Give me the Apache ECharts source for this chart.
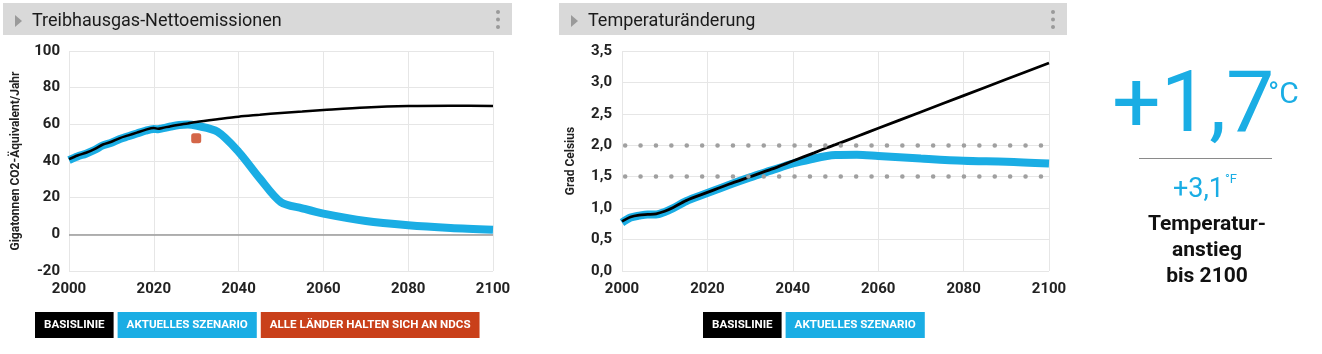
<!DOCTYPE html>
<html>
<head>
<meta charset="utf-8">
<script src="https://cdn.jsdelivr.net/npm/echarts@6/dist/echarts.min.js"></script>
<style>
html,body{margin:0;padding:0;background:#fff;}
#chart{width:1322px;height:354px;}
</style>
</head>
<body>
<div id="chart"></div>
<script>
// ---- Data ----
const emYears = [2000,2002,2004,2006,2008,2010,2012,2014,2016,2018,2020,2021,2022,2024,2026,2028,2030,2035,2040,2045,2050,2055,2060,2070,2080,2090,2100];
const emBaseline = [41,43,44.5,46.5,49,50.5,52.5,54,55.5,57,58,57.6,58,59,59.8,60.5,61.3,62.8,64.2,65.2,66.2,67,67.8,69.2,70,70.2,70];
const emCurrent  = [40.5,42.5,44,46,48.5,50,52,53.5,55,56.5,57.5,57.3,57.8,58.8,59.6,59.9,59.3,56,45,30.5,17.5,14.2,11.3,7.3,5,3.5,2.5];
const ndcPoint = [[2030, 52.4]];

const tYears = [2000,2002,2004,2006,2008,2010,2012,2015,2020,2025,2030,2035,2040,2045,2048,2050,2055,2060,2070,2080,2090,2100];
const tBaseline = [0.79,0.86,0.89,0.9,0.91,0.95,1.01,1.12,1.25,1.38,1.5,1.62,1.75,1.88,1.96,2.01,2.14,2.27,2.53,2.79,3.05,3.31];
const tCurrent  = [0.77,0.85,0.88,0.9,0.9,0.94,1.0,1.11,1.24,1.37,1.49,1.6,1.71,1.79,1.83,1.845,1.85,1.83,1.79,1.755,1.74,1.71];
const tThresholds = [1.5, 2.0];

const emTicks = {min:-20, max:100, interval:20};
const tTicks = {min:0, max:3.5, interval:0.5};
const xTicks = {min:2000, max:2100, interval:20};

const NAME_BASE = 'BASISLINIE';
const NAME_CUR = 'AKTUELLES SZENARIO';
const NAME_NDC = 'ALLE LÄNDER HALTEN SICH AN NDCS';

const BLUE = '#1aade4';
const RED = '#c9401a';

const zip = (xs, ys) => xs.map((x, i) => [x, ys[i]]);

const chart = echarts.init(document.getElementById('chart'), null, {renderer:'canvas'});

const axisLabelStyle = {color:'#222', fontSize:15, fontWeight:'bold', fontFamily:'Roboto'};
const splitLine = {show:true, lineStyle:{color:'#e6e6e6', width:1}};
const yearFmt = v => String(v);

function header(x, w, title) {
  return [
    {type:'rect', shape:{x:x, y:3, width:w, height:32}, style:{fill:'#d9d9d9'}, silent:true},
    {type:'polygon', shape:{points:[[x+12,15],[x+19,21],[x+12,27]]}, style:{fill:'#9a9a9a'}, silent:true},
    {type:'text', style:{text:title, x:x+29, y:21, font:'18px Roboto', fill:'#1a1a1a', verticalAlign:'middle', align:'left'}, silent:true},
    {type:'circle', shape:{cx:x+w-14, cy:12, r:2}, style:{fill:'#9a9a9a'}, silent:true},
    {type:'circle', shape:{cx:x+w-14, cy:19.5, r:2}, style:{fill:'#9a9a9a'}, silent:true},
    {type:'circle', shape:{cx:x+w-14, cy:27, r:2}, style:{fill:'#9a9a9a'}, silent:true}
  ];
}

const legendText = {color:'#fff', fontSize:11.6, fontWeight:'bold', fontFamily:'Roboto', padding:[7,9,7,9]};

const option = {
  animation:false,
  backgroundColor:'#fff',
  grid:[
    {left:69, top:51, width:424, height:220},
    {left:622, top:51, width:427, height:220}
  ],
  xAxis:[
    {gridIndex:0, type:'value', min:xTicks.min, max:xTicks.max, interval:xTicks.interval,
     axisLine:{show:false}, axisTick:{show:false},
     axisLabel:Object.assign({margin:11, formatter:yearFmt}, axisLabelStyle), splitLine:splitLine},
    {gridIndex:1, type:'value', min:xTicks.min, max:xTicks.max, interval:xTicks.interval,
     axisLine:{show:false}, axisTick:{show:false},
     axisLabel:Object.assign({margin:11, formatter:yearFmt}, axisLabelStyle), splitLine:splitLine}
  ],
  yAxis:[
    {gridIndex:0, type:'value', min:emTicks.min, max:emTicks.max, interval:emTicks.interval,
     name:'Gigatonnen CO2-Äquivalent/Jahr', nameLocation:'middle', nameRotate:90, nameGap:47,
     nameTextStyle:{color:'#222', fontSize:12, fontWeight:'bold', fontFamily:'Roboto'},
     axisLine:{show:false}, axisTick:{show:false},
     axisLabel:Object.assign({margin:9}, axisLabelStyle), splitLine:splitLine},
    {gridIndex:1, type:'value', min:tTicks.min, max:tTicks.max, interval:tTicks.interval,
     name:'Grad Celsius', nameLocation:'middle', nameRotate:90, nameGap:45,
     nameTextStyle:{color:'#222', fontSize:12, fontWeight:'bold', fontFamily:'Roboto'},
     axisLine:{show:false}, axisTick:{show:false},
     axisLabel:Object.assign({margin:10, formatter:v => v.toFixed(1).replace('.', ',')}, axisLabelStyle),
     splitLine:splitLine}
  ],
  legend:[
    {left:25, top:307, itemWidth:0, itemHeight:0, itemGap:-1, icon:'none',
     textStyle:legendText,
     data:[
       {name:NAME_BASE, textStyle:{backgroundColor:'#000'}},
       {name:NAME_CUR, textStyle:{backgroundColor:BLUE}},
       {name:NAME_NDC, textStyle:{backgroundColor:RED}}
     ]},
    {left:693, top:307, itemWidth:0, itemHeight:0, itemGap:-1, icon:'none',
     textStyle:legendText,
     data:[
       {name:NAME_BASE, textStyle:{backgroundColor:'#000'}},
       {name:NAME_CUR, textStyle:{backgroundColor:BLUE}}
     ]}
  ],
  series:[
    {type:'line', xAxisIndex:0, yAxisIndex:0, data:[], z:1, silent:true,
     markLine:{silent:true, symbol:'none', label:{show:false},
       lineStyle:{color:'#9a9a9a', width:1.5, type:'solid'}, data:[{yAxis:0}]}},
    {name:NAME_CUR, type:'line', xAxisIndex:0, yAxisIndex:0, data:zip(emYears, emCurrent),
     smooth:0.3, showSymbol:false, lineStyle:{color:BLUE, width:8}, itemStyle:{color:BLUE}, z:2},
    {name:NAME_BASE, type:'line', xAxisIndex:0, yAxisIndex:0, data:zip(emYears, emBaseline),
     smooth:0.3, showSymbol:false, lineStyle:{color:'#000', width:2.5}, itemStyle:{color:'#000'}, z:3},
    {name:NAME_NDC, type:'scatter', xAxisIndex:0, yAxisIndex:0, data:ndcPoint,
     symbol:'roundRect', symbolSize:10, itemStyle:{color:RED}, z:4},

    {type:'line', xAxisIndex:1, yAxisIndex:1, data:[], z:1, silent:true,
     markLine:{silent:true, symbol:'none', label:{show:false},
       lineStyle:{color:'#a0a0a0', width:4.5, type:[0.1, 15.3], dashOffset:12.3, cap:'round'},
       data:tThresholds.map(v => ({yAxis:v}))}},
    {name:NAME_CUR, type:'line', xAxisIndex:1, yAxisIndex:1, data:zip(tYears, tCurrent),
     smooth:0.3, showSymbol:false, lineStyle:{color:BLUE, width:8}, itemStyle:{color:BLUE}, z:2},
    {name:NAME_BASE, type:'line', xAxisIndex:1, yAxisIndex:1, data:zip(tYears, tBaseline),
     smooth:0.3, showSymbol:false, lineStyle:{color:'#000', width:2.8}, itemStyle:{color:'#000'}, z:3}
  ],
  graphic:[].concat(
    header(3, 509, 'Treibhausgas-Nettoemissionen'),
    header(559, 508, 'Temperaturänderung'),
    [
      {type:'text', style:{text:'+1,7', x:1112, y:109, font:'86px Roboto', fill:BLUE, align:'left', verticalAlign:'middle'}, silent:true},
      {type:'text', style:{text:'°C', x:1268, y:95, font:'30px Roboto', fill:BLUE, align:'left', verticalAlign:'middle'}, silent:true},
      {type:'line', shape:{x1:1139, y1:158.5, x2:1272, y2:158.5}, style:{stroke:'#8a8a8a', lineWidth:1}, silent:true},
      {type:'text', style:{text:'+3,1', x:1173, y:190, font:'27px Roboto', fill:BLUE, align:'left', verticalAlign:'middle'}, silent:true},
      {type:'text', style:{text:'°F', x:1225, y:180, font:'13px Roboto', fill:BLUE, align:'left', verticalAlign:'middle'}, silent:true},
      {type:'text', style:{text:'Temperatur-', x:1207, y:225, font:'bold 21px Roboto', fill:'#111', align:'center', verticalAlign:'middle'}, silent:true},
      {type:'text', style:{text:'anstieg', x:1207, y:251, font:'bold 21px Roboto', fill:'#111', align:'center', verticalAlign:'middle'}, silent:true},
      {type:'text', style:{text:'bis 2100', x:1207, y:277, font:'bold 21px Roboto', fill:'#111', align:'center', verticalAlign:'middle'}, silent:true}
    ]
  )
};
chart.setOption(option);
</script>
</body>
</html>
